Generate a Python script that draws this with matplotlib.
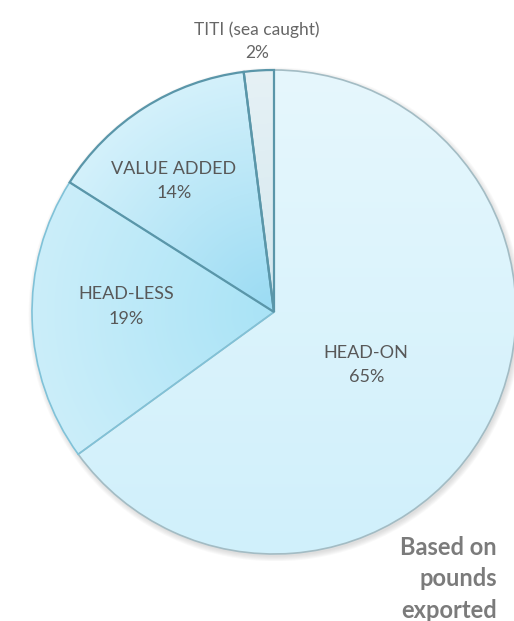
import numpy as np
import matplotlib.pyplot as plt
from matplotlib.colors import to_rgb
from matplotlib.patches import Ellipse

labels = ['HEAD-ON', 'HEAD-LESS', 'VALUE ADDED', 'TITI (sea caught)']
shares = [65, 19, 14, 2]
pct_labels = ['65%', '19%', '14%', '2%']
note = 'Based on\npounds\nexported'

# look of each slice
inner_colors = ['#d0f0fb', '#a9e3f6', '#9adbf3', '#d4e8ef']
outer_colors = ['#e6f7fd', '#cbeefa', '#d4f1fb', '#e6f1f5']
edge_colors = ['#a3bcc4', '#80c2d8', '#5a96a9', '#5a96a9']
# label placement: radius and angle nudge (degrees) from slice middle
label_r = [0.44, 0.61, 0.68, 1.12]
label_dang = [3, 4, -5, 0]

W, H = 514, 621
cx, cy, rx, ry = 274, 312, 242, 250
pad = 1.03

plt.rcParams['font.family'] = ['Lato', 'DejaVu Sans']

fig = plt.figure(figsize=(W / 100, H / 100), dpi=100)
ax = fig.add_axes([(cx - rx * pad) / W, (H - cy - ry * pad) / H,
                   2 * rx * pad / W, 2 * ry * pad / H])

# soft shadow under the pie
for k in range(6):
    ax.add_patch(Ellipse((0.006, -0.010), 2 + 0.008 * k, 2 + 0.008 * k,
                         facecolor='#9a9a9a', edgecolor='none',
                         alpha=0.06, zorder=0))

wedges, _ = ax.pie(shares, startangle=90, counterclock=False, radius=1,
                   wedgeprops=dict(linewidth=0, facecolor='none'))
ax.set_aspect('auto')
ax.set_xlim(-pad, pad)
ax.set_ylim(-pad, pad)
ax.axis('off')

xs = np.linspace(-1, 1, 400)
X, Y = np.meshgrid(xs, xs)
R = np.clip(np.hypot(X, Y), 0, 1)

for i, w in enumerate(wedges):
    if i == 0:
        t = (Y + 1) / 2
    else:
        t = R
    c_in = np.array(to_rgb(inner_colors[i]))
    c_out = np.array(to_rgb(outer_colors[i]))
    img = c_in * (1 - t[..., None]) + c_out * t[..., None]
    im = ax.imshow(img, extent=(-1, 1, -1, 1), origin='lower',
                   interpolation='bilinear', zorder=1 + i * 0.1)
    im.set_clip_path(w)
    w.set_zorder(3 + i * 0.1)
    w.set_edgecolor(edge_colors[i])
    w.set_linewidth(1.6 if i >= 2 else 1.2)

# labels, placed near the middle angle of each slice
for i, w in enumerate(wedges):
    ang = np.deg2rad((w.theta1 + w.theta2) / 2 - label_dang[i])
    x = label_r[i] * np.cos(ang)
    y = label_r[i] * np.sin(ang)
    col = '#666666' if i == 3 else '#585858'
    ax.text(x, y, labels[i] + '\n' + pct_labels[i], ha='center', va='center',
            fontsize=12.5 if i == 3 else 13, color=col,
            linespacing=1.55 if i == 3 else 1.65, zorder=10)

fig.text(497 / W, 1 - 579 / H, note, ha='right', va='center',
         fontsize=17, fontweight='bold', color='#7b7b7b', linespacing=1.45,
         multialignment='right')

fig.savefig('out.png', dpi=100)
